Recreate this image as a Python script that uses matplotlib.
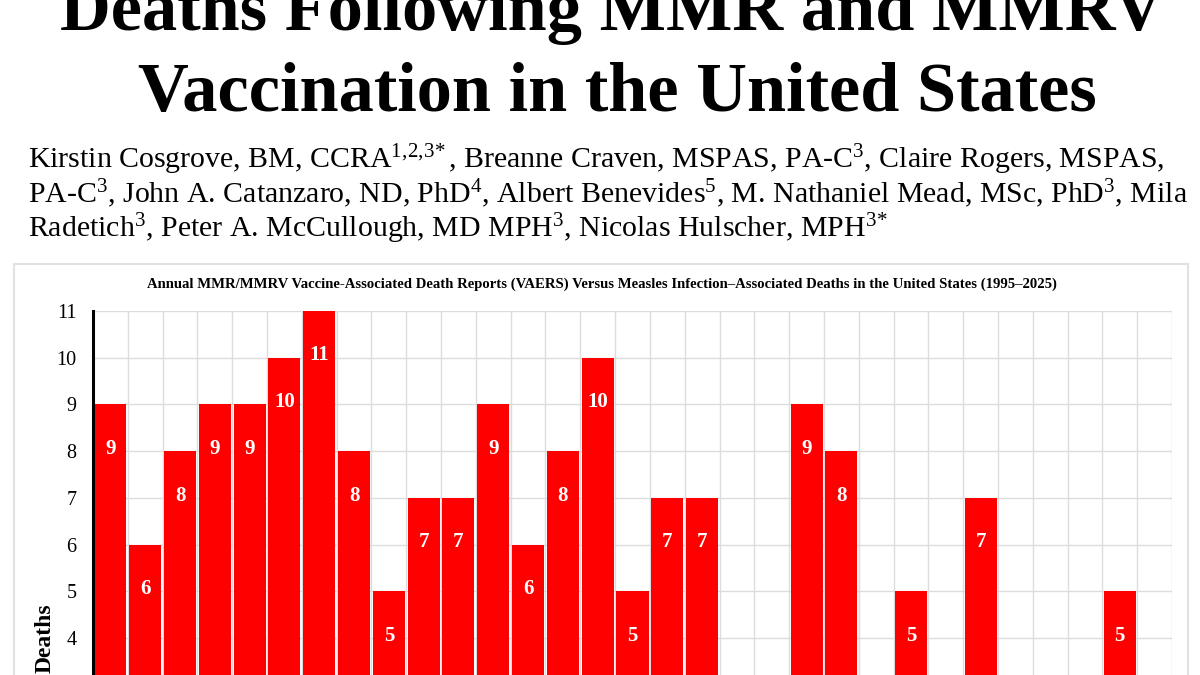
import matplotlib
matplotlib.use("Agg")
import matplotlib.pyplot as plt
from matplotlib.patches import Rectangle

# VAERS death reports per year; years that fall below the visible crop are estimates
years = list(range(1995, 2026))
vaers_deaths = [9, 6, 8, 9, 9, 10, 11, 8, 5, 7, 7, 9, 6, 8, 10, 5, 7, 7,
                3, 2, 9, 8, 3, 5, 2, 7, 3, 2, 3, 5, 1]
y_ticks = list(range(0, 12))

title_lines = ["Deaths Following MMR and MMRV",
               "Vaccination in the United States"]
author_lines = [
    r"Kirstin Cosgrove, BM, CCRA$^{1,\!2,\!3\!*}$, Breanne Craven, MSPAS, PA-C$^{3}$, Claire Rogers, MSPAS,",
    r"PA-C$^{3}$, John A. Catanzaro, ND, PhD$^{4}$, Albert Benevides$^{5}$, M. Nathaniel Mead, MSc, PhD$^{3}$, Mila",
    r"Radetich$^{3}$, Peter A. McCullough, MD MPH$^{3}$, Nicolas Hulscher, MPH$^{3\!*}$",
]
chart_title = ("Annual MMR/MMRV Vaccine-Associated Death Reports (VAERS) Versus Measles "
               "Infection\u2013Associated Deaths in the United States (1995\u20132025)")


def main():
    plt.rcParams.update({
        'font.family': ['Liberation Serif', 'DejaVu Serif'],
        'mathtext.fontset': 'custom',
        'mathtext.rm': 'Liberation Serif',
        'mathtext.it': 'Liberation Serif:italic',
        'mathtext.bf': 'Liberation Serif:bold',
    })

    fig = plt.figure(figsize=(12, 6.75), dpi=100)
    W, H = 1200.0, 675.0

    # paper header
    fig.text(612 / W, 1 - 30 / H, title_lines[0], ha='center', va='baseline',
             fontsize=50.7, fontweight='bold')
    fig.text(617 / W, 1 - 111 / H, title_lines[1], ha='center', va='baseline',
             fontsize=50.7, fontweight='bold')
    for i, line in enumerate(author_lines):
        fig.text(28 / W, 1 - [168, 203, 237][i] / H, line, ha='left', va='baseline',
                 fontsize=21.5)

    # light frame around the figure panel
    fig.patches.append(Rectangle((14 / W, -0.1), (1188 - 14) / W, 0.1 + 1 - 264 / H,
                                 transform=fig.transFigure, fill=False,
                                 edgecolor='#e2e2e2', linewidth=1.5))

    fig.text(602 / W, 1 - 288 / H, chart_title, ha='center', va='baseline',
             fontsize=10.6, fontweight='bold')

    ax = fig.add_axes([93 / W, 1 - 825 / H, (1172 - 93) / W, (825 - 311) / H])
    x = list(range(len(years)))
    bars = ax.bar(x, vaers_deaths, width=0.92, color='#ff0000', zorder=2)
    for rect, v in zip(bars, vaers_deaths):
        ax.annotate(str(v), (rect.get_x() + rect.get_width() / 2, v),
                    xytext=(0, -32), textcoords='offset points',
                    ha='center', va='center', color='white',
                    fontsize=15, fontweight='bold', zorder=3)

    ax.set_xlim(-0.5, len(years) - 0.5)
    ax.set_ylim(0, 11)
    ax.set_yticks(y_ticks)
    ax.set_xticks([i + 0.5 for i in range(-1, len(years))], minor=True)
    ax.set_xticks([])
    ax.tick_params(axis='y', length=0, pad=12, labelsize=14.5)
    ax.grid(axis='y', color='#dcdcdc', linewidth=1, zorder=0)
    ax.grid(axis='x', which='minor', color='#dcdcdc', linewidth=1, zorder=0)
    ax.tick_params(axis='x', which='minor', length=0)
    ax.set_axisbelow(True)
    for side in ['top', 'right', 'bottom']:
        ax.spines[side].set_visible(False)
    ax.spines['left'].set_linewidth(2.2)
    ax.spines['left'].set_color('black')

    fig.text(45 / W, 1 - 638 / H, "Deaths", rotation=90, ha='center', va='center',
             fontsize=17, fontweight='bold')

    fig.savefig('out.png', dpi=100)


if __name__ == '__main__':
    main()
